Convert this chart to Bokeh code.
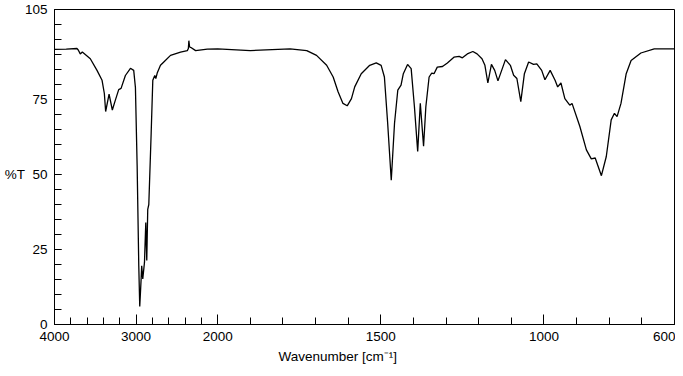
import numpy as np
from bokeh.plotting import figure
from bokeh.models import FixedTicker, Range1d, Title
from bokeh.embed import file_html
from bokeh.resources import INLINE

# IR spectrum: wavenumber (cm-1) and transmittance (%T)
wavenumber = [4000, 3856, 3725, 3709, 3684, 3659, 3561, 3479, 3417, 3389, 3373,
              3331, 3291, 3254, 3213, 3184, 3131, 3069, 3029, 3008, 2987, 2967,
              2955, 2938, 2931, 2918, 2897, 2881, 2869, 2857, 2844, 2815, 2795,
              2771, 2758, 2741, 2701, 2660, 2578, 2455, 2372, 2359, 2353, 2344,
              2332, 2270, 2127, 2000, 1900, 1778, 1727, 1697, 1666, 1646, 1631,
              1616, 1603, 1590, 1580, 1560, 1534, 1514, 1499, 1489, 1479, 1468,
              1458, 1448, 1438, 1431, 1418, 1407, 1397, 1387, 1379, 1369, 1362,
              1352, 1344, 1337, 1327, 1311, 1296, 1276, 1260, 1250, 1235, 1218,
              1205, 1190, 1181, 1172, 1161, 1151, 1141, 1118, 1103, 1093, 1083,
              1071, 1060, 1047, 1032, 1022, 1007, 997, 981, 966, 958, 948, 936,
              921, 914, 890, 870, 855, 843, 824, 809, 794, 784, 776, 764, 748,
              733, 703, 662, 611, 600]
transmittance = [91.7, 91.8, 92.0, 91.5, 90.2, 90.8, 88.6, 84.7, 81.4, 77.0, 71.0,
                 76.8, 71.5, 74.8, 78.3, 78.7, 83.0, 85.4, 84.7, 79.0, 53.0, 19.7,
                 6.0, 15.2, 19.6, 15.2, 20.7, 34.0, 21.3, 38.4, 40.0, 63.8, 81.4,
                 83.0, 82.0, 83.8, 86.4, 87.5, 89.7, 90.8, 91.3, 92.0, 94.6, 92.5,
                 92.4, 91.3, 91.8, 91.9, 91.3, 91.9, 91.3, 89.7, 86.4, 82.5, 77.6,
                 73.7, 72.9, 75.3, 79.2, 83.6, 86.4, 87.2, 86.4, 82.5, 67.1, 48.1,
                 67.1, 78.1, 79.8, 83.6, 86.7, 85.3, 72.6, 57.7, 73.7, 59.4, 72.6,
                 82.5, 83.8, 83.6, 85.8, 86.0, 87.2, 89.1, 89.4, 88.9, 90.2, 91.0,
                 90.2, 88.6, 86.4, 80.5, 86.7, 84.7, 81.2, 88.3, 86.4, 83.1, 82.0,
                 74.3, 83.6, 87.5, 86.7, 86.9, 84.7, 81.6, 84.7, 81.4, 79.2, 80.5, 75.3,
                 73.1, 73.7, 66.0, 58.2, 55.2, 55.5, 49.6, 56.0, 68.2, 70.4, 69.3, 73.7, 83.6,
                 88.0, 90.5, 91.9, 91.9, 91.9]

x_major_ticks = [4000, 3000, 2000, 1500, 1000, 600]
x_minor_ticks = list(range(4000, 1999, -200)) + list(range(1900, 599, -100))
y_major_ticks = [0, 25, 50, 75, 105]
y_minor_ticks = list(range(0, 106, 5))
y_title = "%T"
y_title_at = 50


def to_axis(w):
    """Split IR axis: 4000-2000 compressed 4x relative to 2000-600."""
    w = np.asarray(w, dtype=float)
    return np.where(w >= 2000, (4000.0 - w) / 4.0, 500.0 + (2000.0 - w))


xs = to_axis(wavenumber)
ys = np.asarray(transmittance, dtype=float)

p = figure(width=675, height=368,
           x_range=Range1d(0, 1900), y_range=Range1d(0, 105),
           output_backend="svg", toolbar_location=None,
           min_border_left=54, min_border_right=1,
           min_border_top=9, min_border_bottom=44)

p.line(xs, ys, line_color="black", line_width=1.3)

FONT = "Liberation Sans"
FS = "13.5px"

xt = [float(v) for v in to_axis(x_major_ticks)]
p.xaxis.ticker = FixedTicker(ticks=xt, minor_ticks=[float(v) for v in to_axis(x_minor_ticks)])
p.xaxis.major_label_overrides = {t: str(w) for t, w in zip(xt, x_major_ticks)}
p.yaxis.ticker = FixedTicker(ticks=y_major_ticks, minor_ticks=y_minor_ticks)
# the reference sets its "%T" title on the same line as the 50 tick label
p.yaxis.major_label_overrides = {y_title_at: y_title + "\u00a0\u00a0" + str(y_title_at)}

for ax in (p.xaxis, p.yaxis):
    ax.axis_line_color = "black"
    ax.major_tick_line_color = "black"
    ax.minor_tick_line_color = "black"
    ax.major_tick_out = 0
    ax.minor_tick_out = 0
    ax.major_label_text_font = FONT
    ax.major_label_text_font_size = FS
    ax.major_label_text_color = "black"

p.xaxis.major_tick_in = 10
p.xaxis.minor_tick_in = 7
p.yaxis.major_tick_in = 7
p.yaxis.minor_tick_in = 7
p.xaxis.major_label_standoff = 7
p.yaxis.major_label_standoff = 7

# x-axis title, placed slightly left of the frame centre as in the reference
p.add_layout(Title(text="Wavenumber [cm\u207b\u00b9]", align="left", offset=224,
                   text_font=FONT, text_font_size=FS, text_font_style="normal",
                   text_color="black", standoff=6), "below")

p.xgrid.visible = False
p.ygrid.visible = False
p.outline_line_color = "black"
p.outline_line_width = 1
p.background_fill_color = "white"
p.border_fill_color = "white"

open("out.html", "w").write(file_html(p, INLINE))
